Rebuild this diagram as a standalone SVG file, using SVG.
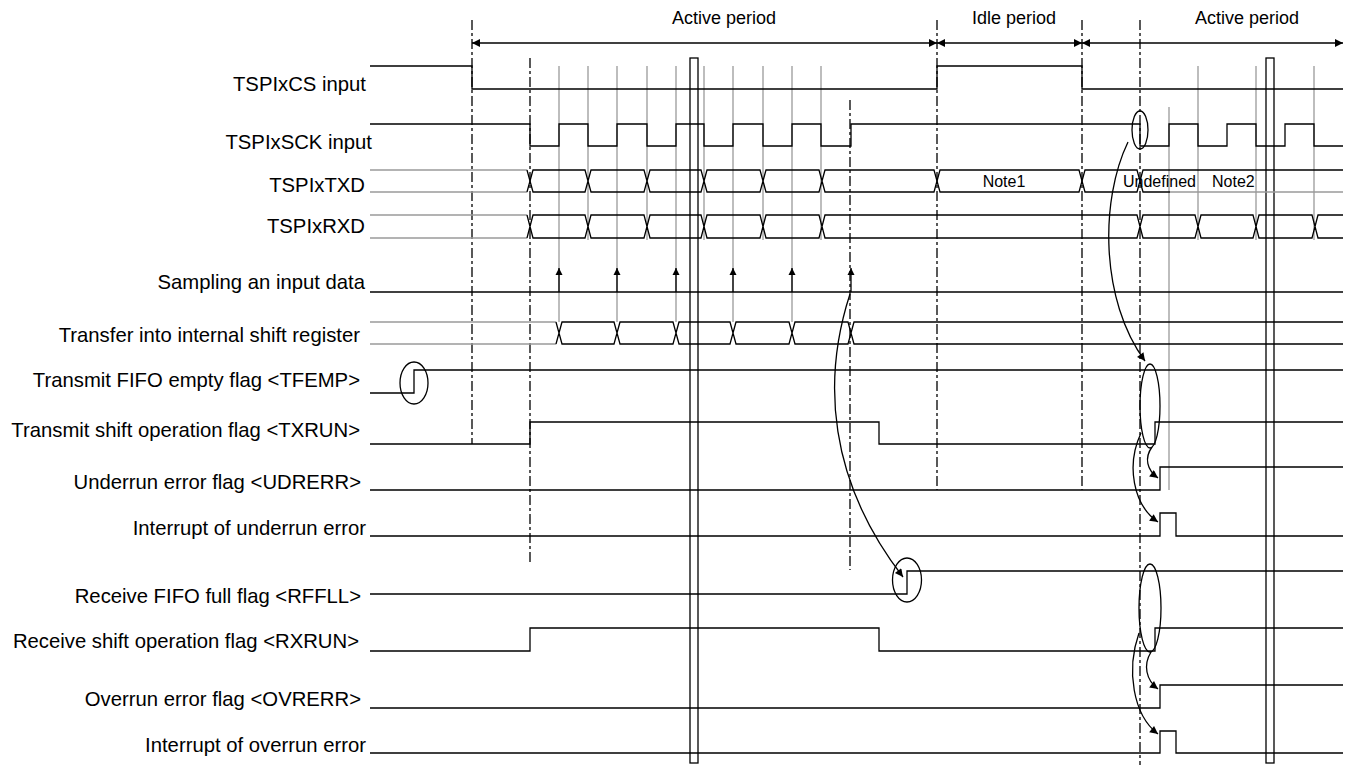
<svg xmlns="http://www.w3.org/2000/svg" width="1349" height="765" viewBox="0 0 1349 765">
<style>
.s{stroke:#000;stroke-width:1.3;fill:none}
.g{stroke:#9a9a9a;stroke-width:1.3;fill:none}
.d{stroke:#000;stroke-width:1.3;fill:none;stroke-dasharray:10 3 3 3}
.lbl{font-family:"Liberation Sans",Arial,sans-serif;font-size:20.3px;text-anchor:end;fill:#000}
.per{font-family:"Liberation Sans",Arial,sans-serif;font-size:18px;text-anchor:middle;fill:#000}
.note{font-family:"Liberation Sans",Arial,sans-serif;font-size:16px;fill:#000}
</style>
<defs>
<marker id="ah" viewBox="0 0 10 10" refX="10" refY="5" markerWidth="10" markerHeight="8" markerUnits="userSpaceOnUse" orient="auto-start-reverse"><path d="M0,0 L10,5 L0,10 z" fill="#000"/></marker>
<marker id="up" viewBox="0 0 10 10" refX="10" refY="5" markerWidth="7" markerHeight="9" markerUnits="userSpaceOnUse" orient="auto"><path d="M0,0 L10,5 L0,10 z" fill="#000"/></marker>
</defs>

<g id="periods">
<line class="s" x1="472" y1="43" x2="937" y2="43" marker-start="url(#ah)" marker-end="url(#ah)"/>
<line class="s" x1="937" y1="43" x2="1082" y2="43" marker-start="url(#ah)" marker-end="url(#ah)"/>
<line class="s" x1="1082" y1="43" x2="1343" y2="43" marker-start="url(#ah)" marker-end="url(#ah)"/>
<text class="per" x="724" y="24">Active period</text>
<text class="per" x="1014" y="24">Idle period</text>
<text class="per" x="1247" y="24">Active period</text>
</g>

<g id="clock-edges">
<path class="g" d="M559,66 V322 M617,66 V322 M676,66 V322 M733,66 V322 M792,66 V322"/>
<path class="g" d="M588,66 V240 M647,66 V240 M704,66 V240 M763,66 V240 M821,66 V240"/>
<path class="g" d="M1169,107 V490 M1198,66 V240 M1256,66 V240 M1314,66 V240"/>
</g>

<g id="markers-lines">
<path class="d" d="M472,20 V444"/>
<path class="d" d="M530,58 V565"/>
<path class="d" d="M850,100 V570"/>
<path class="d" d="M937,20 V490"/>
<path class="d" d="M1082,20 V490"/>
<path class="d" d="M1140,20 V765"/>
<rect class="s" x="690" y="58" width="8" height="705"/>
<rect class="s" x="1266" y="58" width="8" height="705"/>
</g>

<g id="cs">
<text class="lbl" x="366" y="91">TSPIxCS input</text>
<path class="s" d="M370,66 H472 V89 H937 V66 H1082 V89 H1343"/>
</g>

<g id="sck">
<text class="lbl" x="372" y="149">TSPIxSCK input</text>
<path class="s" d="M370,124 H530 V146 H559 V124 H588 V146 H617 V124 H647 V146 H676 V124 H704 V146 H733 V124 H763 V146 H792 V124 H821 V146 H851 V124 H1140 V146 H1169 V124 H1198 V146 H1227 V124 H1256 V146 H1285 V124 H1314 V146 H1343"/>
<ellipse class="s" cx="1140" cy="130" rx="8" ry="19"/>
</g>

<g id="txd">
<text class="lbl" x="365" y="192">TSPIxTXD</text>
<path class="g" d="M370,170 H527 M370,192 H527"/>
<path class="s" d="M527,170 L530,181 L527,192
M530,181 L533,170 H585 L588,181 L585,192 H533 Z
M588,181 L591,170 H644 L647,181 L644,192 H591 Z
M647,181 L650,170 H701 L704,181 L701,192 H650 Z
M704,181 L707,170 H760 L763,181 L760,192 H707 Z
M763,181 L766,170 H819 L822,181 L819,192 H766 Z
M822,181 L825,170 H934 L937,181 L934,192 H825 Z
M937,181 L940,170 H1079 L1082,181 L1079,192 H940 Z
M1082,181 L1085,170 H1137 L1140,181 L1137,192 H1085 Z
M1140,181 L1143,170 H1343 M1140,181 L1143,192 H1170"/>
<path class="g" d="M1170,192 H1343"/>
<text class="note" x="1004" y="187" text-anchor="middle">Note1</text>
<text class="note" x="1123" y="187">Undefined</text>
<text class="note" x="1212" y="187">Note2</text>
</g>

<g id="rxd">
<text class="lbl" x="365" y="233">TSPIxRXD</text>
<path class="g" d="M370,215 H527 M370,238 H527"/>
<path class="s" d="M527,215 L530,226.5 L527,238
M530,226.5 L533,215 H585 L588,226.5 L585,238 H533 Z
M588,226.5 L591,215 H644 L647,226.5 L644,238 H591 Z
M647,226.5 L650,215 H701 L704,226.5 L701,238 H650 Z
M704,226.5 L707,215 H760 L763,226.5 L760,238 H707 Z
M763,226.5 L766,215 H819 L822,226.5 L819,238 H766 Z
M822,226.5 L825,215 H1137 L1140,226.5 L1137,238 H825 Z
M1140,226.5 L1143,215 H1195 L1198,226.5 L1195,238 H1143 Z
M1198,226.5 L1201,215 H1253 L1256,226.5 L1253,238 H1201 Z
M1256,226.5 L1259,215 H1312 L1315,226.5 L1312,238 H1259 Z
M1315,226.5 L1318,215 H1343 M1315,226.5 L1318,238 H1343"/>
</g>

<g id="sampling">
<text class="lbl" x="365" y="289">Sampling an input data</text>
<path class="s" d="M370,292 H1343"/>
<line class="s" x1="559" y1="292" x2="559" y2="268" marker-end="url(#up)"/>
<line class="s" x1="617" y1="292" x2="617" y2="268" marker-end="url(#up)"/>
<line class="s" x1="676" y1="292" x2="676" y2="268" marker-end="url(#up)"/>
<line class="s" x1="733" y1="292" x2="733" y2="268" marker-end="url(#up)"/>
<line class="s" x1="792" y1="292" x2="792" y2="268" marker-end="url(#up)"/>
<line class="s" x1="851" y1="292" x2="851" y2="268" marker-end="url(#up)"/>
</g>

<g id="transfer">
<text class="lbl" x="360" y="342">Transfer into internal shift register</text>
<path class="g" d="M370,322 H556 M370,344 H556"/>
<path class="s" d="M556,322 L559,333 L556,344
M559,333 L562,322 H614 L617,333 L614,344 H562 Z
M617,333 L620,322 H673 L676,333 L673,344 H620 Z
M676,333 L679,322 H730 L733,333 L730,344 H679 Z
M733,333 L736,322 H789 L792,333 L789,344 H736 Z
M792,333 L795,322 H848 L851,333 L848,344 H795 Z
M851,333 L854,322 H1343 M851,333 L854,344 H1343"/>
</g>

<g id="tfemp">
<text class="lbl" x="360" y="387">Transmit FIFO empty flag &lt;TFEMP&gt;</text>
<path class="s" d="M370,393 H414 V370 H1343"/>
<ellipse class="s" cx="414" cy="383" rx="14" ry="21"/>
</g>

<g id="txrun">
<text class="lbl" x="360" y="437">Transmit shift operation flag &lt;TXRUN&gt;</text>
<path class="s" d="M370,444 H530 V422 H879 V444 H1155 V422 H1343"/>
<ellipse class="s" cx="1150" cy="406" rx="10" ry="42"/>
</g>

<g id="udrerr">
<text class="lbl" x="361" y="489">Underrun error flag &lt;UDRERR&gt;</text>
<path class="s" d="M370,490 H1160 V467 H1343"/>
</g>

<g id="int-udr">
<text class="lbl" x="366" y="535">Interrupt of underrun error</text>
<path class="s" d="M370,536 H1160 V513 H1176 V536 H1343"/>
</g>

<g id="rffll">
<text class="lbl" x="361" y="603">Receive FIFO full flag &lt;RFFLL&gt;</text>
<path class="s" d="M370,594 H907 V571 H1343"/>
<ellipse class="s" cx="907" cy="580" rx="14.5" ry="22"/>
</g>

<g id="rxrun">
<text class="lbl" x="359" y="648">Receive shift operation flag &lt;RXRUN&gt;</text>
<path class="s" d="M370,651 H530 V628 H879 V651 H1155 V628 H1343"/>
<ellipse class="s" cx="1150" cy="608" rx="11" ry="44"/>
</g>

<g id="ovrerr">
<text class="lbl" x="361" y="706">Overrun error flag &lt;OVRERR&gt;</text>
<path class="s" d="M370,708 H1160 V685 H1343"/>
</g>

<g id="int-ovr">
<text class="lbl" x="366" y="752">Interrupt of overrun error</text>
<path class="s" d="M370,753 H1160 V731 H1176 V753 H1343"/>
</g>

<g id="connectors">
<path class="s" d="M850,294 C822,380 828,480 903,577" marker-end="url(#ah)"/>
<path class="s" d="M1128,142 C1100,200 1100,300 1145,361" marker-end="url(#ah)"/>
<path class="s" d="M1152,447 C1144,458 1147,470 1158,478" marker-end="url(#ah)"/>
<path class="s" d="M1141,433 C1126,465 1133,505 1158,522" marker-end="url(#ah)"/>
<path class="s" d="M1151,652 C1143,665 1146,680 1158,689" marker-end="url(#ah)"/>
<path class="s" d="M1139,633 C1126,670 1133,715 1158,734" marker-end="url(#ah)"/>
</g>
</svg>
